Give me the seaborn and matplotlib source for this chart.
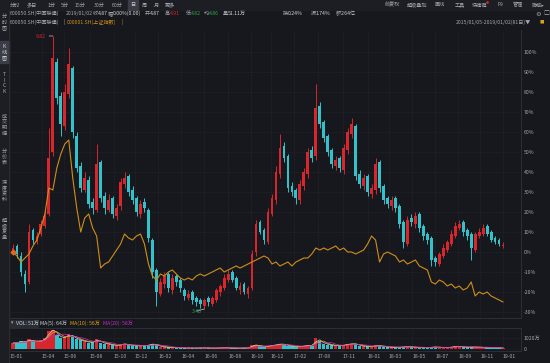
import numpy as np
import pandas as pd
import matplotlib
matplotlib.use("Agg")
import matplotlib.pyplot as plt
import seaborn as sns

# ---------------- data (percent change vs. first close) ----------------
stock_open = [0, 3, -2, -11, -15, 11, 5, 9, 13, 19, 50, 95, 78, 63, 79, 92, 58, 43, 31, 36,
              25, 21, 45, 28, 21, 27, 18, 23, 34, 38, 31, 27, 19, 25, 21, 6, -9, -21, -16, -11,
              -19, -12, -14, -19, -23, -20, -23, -24, -27, -23, -26, -24, -20, -18, -14, -10, -13, -19, -16, -21,
              -18, 0, 15, 11, 5, 19, 26, 39, 53, 48, 33, 31, 26, 33, 39, 51, 48, 73, 65, 58,
              51, 43, 47, 41, 51, 59, 63, 39, 33, 38, 29, 31, 45, 33, 27, 23, 27, 23, 15, 4,
              17, 14, 19, 13, 9, 7, -3, -6, -2, 1, 4, 8, 12, 15, 11, 9, 1, 8, 9, 13,
              10, 7, 6, 3]
stock_close = [2, -1, -10, -16, 10, 6, 8, 14, 18, 47, 97, 77, 64, 80, 94, 60, 42, 32, 37, 24,
               22, 44, 27, 22, 26, 19, 22, 35, 37, 30, 26, 20, 24, 22, 7, -10, -20, -15, -12, -18,
               -13, -15, -18, -22, -21, -24, -25, -26, -24, -25, -23, -19, -17, -13, -11, -14, -18, -17, -20, -18,
               -1, 14, 10, 6, 20, 27, 40, 52, 47, 32, 30, 27, 34, 40, 50, 47, 72, 64, 57, 50,
               44, 46, 42, 52, 60, 64, 38, 34, 37, 30, 32, 44, 32, 26, 24, 26, 22, 14, 5, 16,
               15, 18, 12, 8, 6, -4, -5, -1, 2, 5, 9, 13, 14, 10, 8, 2, 9, 10, 12, 9,
               6, 5, 4, 3]
stock_high = [4, 4, 0, -9, 14, 12, 10, 16, 21, 62, 108, 97, 80, 84, 102, 93, 60, 45, 40, 38,
              27, 54, 46, 30, 29, 28, 24, 37, 40, 39, 33, 28, 26, 27, 22, 7, -8, -13, -10, -10,
              -11, -11, -13, -18, -19, -19, -22, -23, -23, -22, -22, -18, -16, -11, -9, -9, -12, -15, -15, -17,
              1, 16, 16, 12, 22, 29, 43, 59, 55, 49, 35, 32, 36, 42, 52, 53, 84, 75, 66, 59,
              52, 48, 48, 54, 62, 67, 64, 41, 39, 39, 34, 47, 46, 34, 28, 28, 28, 24, 16, 18,
              19, 20, 20, 14, 10, 8, -2, 0, 4, 6, 11, 15, 16, 16, 12, 10, 10, 12, 14, 14,
              11, 8, 7, 5]
stock_low = [-1, -3, -12, -20, -16, 4, 4, 8, 12, 18, 48, 74, 58, 61, 77, 57, 40, 30, 30, 22,
             19, 20, 25, 19, 20, 17, 16, 21, 32, 28, 24, 18, 17, 20, 5, -13, -27, -22, -18, -20,
             -21, -17, -20, -24, -24, -26, -27, -28, -28.5, -27, -27, -25, -22, -19, -15, -15, -19, -21, -21, -23,
             -19, -2, 9, 4, 4, 18, 24, 37, 45, 30, 28, 24, 24, 31, 37, 45, 46, 62, 55, 48,
             42, 41, 40, 39, 49, 57, 36, 32, 31, 28, 27, 29, 30, 24, 22, 21, 20, 12, 2, 3,
             13, 12, 10, 6, 4, -7, -7, -7, -3, 0, 3, 7, 11, 8, 6, -4, 0, 7, 8, 8,
             5, 4, 3, 2]
index_pct = [0, -2, -5, -3, -1, 3, 6, 12, 19, 32, 31, 42, 49, 54, 56, 37, 22, 10, 17, 19,
             12, 8, -8, -6, -5, -2, 1, 4, 9, 7, 6, 8, 9, 4, -6, -12, -14, -11, -12, -10,
             -9, -11, -13, -14, -13, -14, -12, -11, -12, -11, -10, -9, -8, -10, -9, -8, -7, -8, -7, -6,
             -5, -4, -3, -2, -3, -6, -5, -7, -6, -5, -7, -5, -4, -3, -3, -1, 2, 1, 2, 1,
             2, 3, 1, 2, 0, 0, -1, 0, 1, 4, 8, 6, -5, -1, 0, -1, -2, -5, -4, -6,
             -5, -4, -7, -8, -9, -15, -16, -14, -15, -17, -16, -18, -17, -19, -18, -15, -22, -20, -21, -20,
             -22, -23, -24, -25]
volume_wan = [550, 600, 700, 650, 900, 700, 650, 800, 1000, 1700, 1800, 1300, 1000, 1100, 1400, 1100, 900, 800, 700, 600,
              650, 900, 600, 500, 450, 350, 300, 450, 500, 350, 300, 280, 320, 300, 400, 500, 350, 200, 180, 150,
              140, 120, 100, 90, 100, 80, 90, 110, 100, 90, 80, 90, 110, 120, 100, 90, 80, 90, 100, 90,
              400, 350, 250, 200, 300, 350, 400, 500, 400, 300, 250, 200, 250, 300, 350, 300, 1000, 700, 500, 400,
              350, 300, 300, 400, 450, 500, 450, 300, 250, 250, 220, 350, 300, 200, 180, 160, 150, 180, 200, 220,
              180, 150, 130, 140, 120, 200, 180, 150, 130, 140, 200, 250, 220, 180, 150, 200, 170, 160, 150, 140,
              130, 120, 110, 100]

date_labels = ["15-01", "15-04", "15-06", "15-08", "15-10", "15-12", "16-02", "16-04", "16-06", "16-08",
               "16-10", "16-12", "17-02", "17-08", "17-11", "18-01", "18-03", "18-05", "18-07", "18-09",
               "18-11", "19-01"]
date_pos = [-0.75, 7.25, 12.75, 19.25, 25.25, 30.5, 36.5, 42.25, 48, 54,
            59.75, 64.75, 70.5, 76.5, 82.75, 89, 94.25, 100.25, 106, 111.75,
            117.25, 123]
pct_ticks = [-30, -20, -10, 0, 10, 20, 30, 40, 50, 60, 70, 80, 90, 100]

# ---------------- style ----------------
sns.set_theme(style="dark")
plt.rcParams['font.family'] = ['Noto Sans CJK SC', 'DejaVu Sans']
plt.rcParams['axes.unicode_minus'] = False

BG = '#16181d'
PANEL = '#1c1e24'
TXT = '#a3a8b0'
GRID = '#262930'
LINE = '#2c2f36'
RED = '#d8262c'
CYAN = '#33c2c9'
GREEN = '#2aa84a'
ORANGE = '#cf8e1a'
MAGENTA = '#c42bc4'
W, H = 550, 363
FS = 3.7

fig = plt.figure(figsize=(W / 100, H / 100), dpi=100, facecolor=BG)


def frac(x0, y0, x1, y1):
    return [x0 / W, 1 - y1 / H, (x1 - x0) / W, (y1 - y0) / H]


def T(x, y, s, color=TXT, size=FS, ha='left', va='center', **kw):
    fig.text(x / W, 1 - y / H, s, color=color, fontsize=size, ha=ha, va=va, **kw)


def box(x0, y0, x1, y1, color):
    fig.patches.append(plt.Rectangle((x0 / W, 1 - y1 / H), (x1 - x0) / W, (y1 - y0) / H,
                                     transform=fig.transFigure, color=color, zorder=0))


# chrome: toolbar and sidebar
box(0, 0, W, 9.5, PANEL)
box(0, 9.5, 9, H, PANEL)
box(128, 0.5, 137.5, 9.5, '#3a3d45')
box(0, 41, 8.5, 63, '#3a3d45')
fig.add_artist(plt.Line2D([9.2 / W, 9.2 / W], [0, 1 - 9.5 / H], color=LINE, lw=0.6, transform=fig.transFigure))

tabs = [("分时", 10), ("多日", 27), ("1分", 48), ("5分", 61), ("15分", 75), ("30分", 94),
        ("60分", 112), ("日", 130.5), ("周", 142), ("月", 154), ("更多", 165)]
for s, x in tabs:
    T(x, 5, s, color='#c8ccd2' if s == "日" else TXT)
tools = [("前复权", 385), ("超级叠加", 407), ("画线", 435), ("工具", 455), ("快捷键", 472),
         ("F9", 498), ("管理", 513), ("隐藏▸", 532)]
for s, x in tools:
    T(x, 5, s)
T(486, 2.5, "●", color=RED, size=2.2)

side = [("分时图", 22), ("K线图", 52), ("TICK", 83), ("成交明细", 125), ("分价表", 157),
        ("深度资料", 191), ("超级复盘", 229)]
for s, y in side:
    T(4.5, y, "\n".join(s), color='#d0d3d8' if s == "K线图" else TXT, size=3.7,
      ha='center', linespacing=1.1)

# header row 2
row2 = [("600050.SH(中国联通)", 10, TXT), ("2019/01/02", 66, TXT), ("收", 93, TXT), ("4.87", 98, '#d0d3d8'),
        ("幅", 108, TXT), ("0.00%(0.00)", 113, '#d0d3d8'), ("开", 145, TXT), ("4.87", 150, '#d0d3d8'),
        ("高", 165, TXT), ("4.91", 170, RED), ("低", 186, TXT), ("4.82", 191, GREEN),
        ("均", 204, TXT), ("4.86", 209, GREEN), ("量", 223, TXT), ("51.11万", 228, '#d0d3d8'),
        ("换", 283, TXT), ("0.24%", 288, '#d0d3d8'), ("振", 311, TXT), ("1.74%", 316, '#d0d3d8'),
        ("额", 336, TXT), ("2.64亿", 341, '#d0d3d8')]
for s, x, c in row2:
    T(x, 13.5, s, color=c)
T(535, 13.5, "⚙", color=TXT, size=4.6)
T(543, 13.5, "□", color=TXT, size=4.2)

# header row 3
T(10, 22, "600050.SH(中国联通)", color=TXT)
T(64, 22, "|", color=TXT)
T(67, 22, "000001.SH(上证指数)", color=ORANGE)
T(122, 22, "|", color=ORANGE)
T(531, 22, "2015/01/05-2019/01/02(81日)▼", color=TXT, ha='right')
T(540, 22, "■", color='#d9a21b', size=3.2)

# ---------------- main price panel ----------------
n = len(stock_close)
idx = np.arange(n)
df = pd.DataFrame({"i": idx, "open": stock_open, "close": stock_close,
                   "high": stock_high, "low": stock_low, "index": index_pct, "vol": volume_wan})
up = df["close"] >= df["open"]
colors = np.where(up, RED, CYAN)

ax = fig.add_axes(frac(10, 30, 521, 318))
ax.set_facecolor(BG)
ax.set_xlim(-0.25, 127.5)
ax.set_ylim(-33, 111)

ax.vlines(df["i"], df["low"], df["high"], colors=colors, lw=0.7, zorder=3)
body_bottom = np.minimum(df["open"], df["close"])
body_h = np.maximum(np.abs(df["close"] - df["open"]), 0.6)
ax.bar(df["i"], body_h, bottom=body_bottom, width=0.7, color=colors, linewidth=0, zorder=4)

sns.lineplot(data=df, x="i", y="index", color=ORANGE, lw=0.8, ax=ax, zorder=5)
ax.plot([0], [index_pct[0]], marker='D', ms=2.5, color='#e8641c', zorder=6)

# extremes
imax = int(np.argmax(stock_high))
imin = int(np.argmin(stock_low))
ax.annotate("9.82", xy=(imax, stock_high[imax]), xytext=(-5, 0), textcoords='offset points',
            ha='right', va='center', color=RED, fontsize=FS,
            arrowprops=dict(arrowstyle='-', color='#c9c9c9', lw=0.5, shrinkA=0, shrinkB=0))
ax.annotate("3.40", xy=(imin, stock_low[imin]), xytext=(-2, -1.5), textcoords='offset points',
            ha='right', va='center', color=GREEN, fontsize=FS,
            arrowprops=dict(arrowstyle='-', color='#c9c9c9', lw=0.5, shrinkA=0, shrinkB=0))

ax.set_yticks(pct_ticks)
ax.set_yticklabels([f"{t}%" for t in pct_ticks])
ax.yaxis.tick_right()
ax.set_xticks(date_pos)
ax.set_xticklabels([])
ax.tick_params(axis='y', length=0, pad=2, labelsize=FS, labelcolor=TXT)
ax.tick_params(axis='x', length=0)
ax.grid(True, color=GRID, lw=0.5, linestyle=(0, (1.5, 1.5)))
ax.set_xlabel("")
ax.set_ylabel("")
for side_, sp in ax.spines.items():
    sp.set_visible(side_ in ("right", "bottom"))
    sp.set_color(LINE)
    sp.set_linewidth(0.7)

# ---------------- volume panel ----------------
axv = fig.add_axes(frac(10, 328, 521, 351))
axv.set_facecolor(BG)
axv.set_xlim(-0.25, 127.5)
axv.set_ylim(-185, 1947)
axv.bar(df["i"], df["vol"], width=0.85, color=colors, linewidth=0, zorder=3)
df["ma5"] = df["vol"].rolling(2, min_periods=1).mean()
df["ma10"] = df["vol"].rolling(3, min_periods=1).mean()
df["ma20"] = df["vol"].rolling(5, min_periods=1).mean()
sns.lineplot(data=df, x="i", y="ma5", color='#d8d8d8', lw=0.5, ax=axv, zorder=4)
sns.lineplot(data=df, x="i", y="ma10", color='#d9a81c', lw=0.5, ax=axv, zorder=4)
sns.lineplot(data=df, x="i", y="ma20", color=MAGENTA, lw=0.5, ax=axv, zorder=4)
axv.set_yticks([0, 1020])
axv.set_yticklabels(["0", "1020万"])
axv.yaxis.tick_right()
axv.set_xticks(date_pos)
axv.set_xticklabels(date_labels)
for lab in axv.get_xticklabels():
    lab.set_ha('left')
axv.tick_params(axis='y', length=0, pad=2, labelsize=FS, labelcolor=TXT)
axv.tick_params(axis='x', length=0, pad=2.5, labelsize=FS, labelcolor=TXT)
axv.grid(True, color=GRID, lw=0.5, linestyle=(0, (1.5, 1.5)))
axv.set_xlabel("")
axv.set_ylabel("")
for side_, sp in axv.spines.items():
    sp.set_visible(side_ in ("right", "bottom", "top"))
    sp.set_color(LINE)
    sp.set_linewidth(0.7)

# volume legend row
box(10, 319.5, 14, 326.5, '#2a2d34')
T(12, 323, "▾", color=TXT, size=3.3, ha='center')
box(15, 319.5, 38, 326.5, '#2a2d34')
T(16, 323, "VOL: 51万", color='#d0d3d8')
T(39.5, 323, "MA(5): 64万", color='#d0d3d8')
T(70, 323, "MA(10): 56万", color='#d9a81c')
T(103, 323, "MA(20): 58万", color=MAGENTA)

fig.savefig("out.png", dpi=100, facecolor=BG)
